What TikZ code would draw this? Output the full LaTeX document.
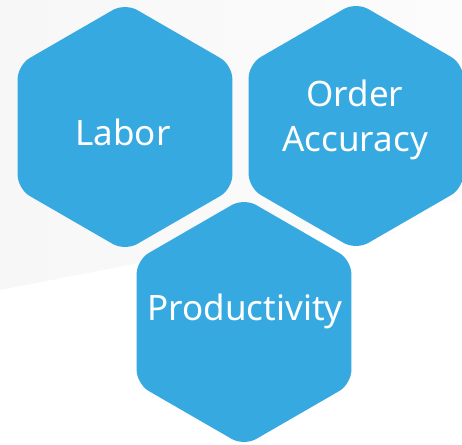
\documentclass[tikz,border=0pt]{standalone}
\usepackage{fontspec}
\setmainfont{Noto Sans}
\definecolor{hexblue}{HTML}{36A9E1}
\definecolor{bggray}{HTML}{F7F7F7}
\definecolor{bglight}{HTML}{FCFCFC}
\begin{document}
\begin{tikzpicture}[x=1pt,y=-1pt,
  hexbox/.style={fill=hexblue, rounded corners=14pt},
  hexlabel/.style={text=white, font=\fontsize{35}{45}\selectfont, align=center, inner sep=0pt}]
\useasboundingbox (0,0) rectangle (462,444);
\fill[white] (0,0) rectangle (462,444);
\shade[left color=bggray, right color=bglight] (0,0) -- (462,0) -- (462,200) -- (0,290) -- cycle;
\def\R{124}
\def\hexpath{(30:\R) -- (90:\R) -- (150:\R) -- (210:\R) -- (270:\R) -- (330:\R) -- cycle}
% hexagons
\fill[hexbox, shift={(125,127)}] \hexpath;
\fill[hexbox, shift={(356,126)}] \hexpath;
\fill[hexbox, shift={(244,322)}] \hexpath;
% labels
\node[hexlabel] (labor) at (123,132) {Labor};
\node[hexlabel] (order) at (355,120) {Order\\Accuracy};
\node[hexlabel] (prod) at (245,311) {Productivity};
\end{tikzpicture}
\end{document}
